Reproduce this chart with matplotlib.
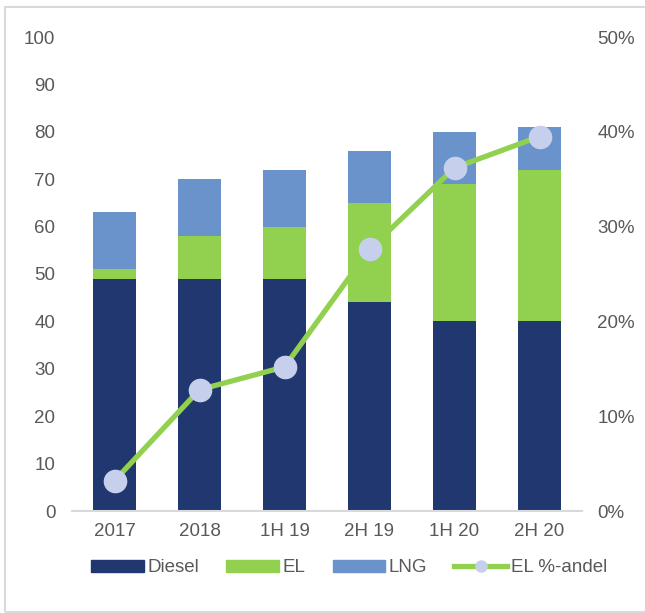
import matplotlib
matplotlib.use("Agg")
import matplotlib.pyplot as plt
from matplotlib.patches import Rectangle
from matplotlib.lines import Line2D
from matplotlib.ticker import FuncFormatter, MultipleLocator
import numpy as np

plt.rcParams['font.family'] = ['Liberation Sans', 'DejaVu Sans']

categories = ["2017", "2018", "1H 19", "2H 19", "1H 20", "2H 20"]
diesel = [49, 49, 49, 44, 40, 40]
el = [2, 9, 11, 21, 29, 32]
lng = [12, 12, 12, 11, 11, 9]
el_share = [3.2, 12.8, 15.2, 27.6, 36.2, 39.5]

c_diesel = "#21376F"
c_el = "#92D050"
c_lng = "#6A92CB"
c_marker = "#C6CFEC"
c_text = "#595959"
fs = 13.5

fig = plt.figure(figsize=(6.45, 6.13), dpi=100)
ax = fig.add_axes([72/645, 1-511/613, 510/645, 474/613])
x = np.arange(len(categories))
w = 0.5
d = np.array(diesel); e = np.array(el); l = np.array(lng)
ax.bar(x, d, w, color=c_diesel, label="Diesel", zorder=2)
ax.bar(x, e, w, bottom=d, color=c_el, label="EL", zorder=2)
ax.bar(x, l, w, bottom=d+e, color=c_lng, label="LNG", zorder=2)
ax.set_xlim(-0.5, len(categories)-0.5)
ax.set_ylim(0, 100)
ax.yaxis.set_major_locator(MultipleLocator(10))
ax.set_xticks(x)
ax.set_xticklabels(categories)
for s in ["top", "right", "left"]:
    ax.spines[s].set_visible(False)
ax.spines["bottom"].set_color("#D9D9D9")
ax.spines["bottom"].set_linewidth(1.5)
ax.tick_params(axis="both", length=0, labelsize=fs, colors=c_text)
ax.tick_params(axis="y", pad=12)
ax.tick_params(axis="x", pad=9)

ax2 = ax.twinx()
ax2.set_ylim(0, 50)
ax2.yaxis.set_major_locator(MultipleLocator(10))
ax2.yaxis.set_major_formatter(FuncFormatter(lambda v, p: f"{int(v)}%"))
for s in ["top", "right", "left", "bottom"]:
    ax2.spines[s].set_visible(False)
ax2.tick_params(axis="y", length=0, labelsize=fs, colors=c_text, pad=11)
ax2.plot(x, el_share, color=c_el, linewidth=3.8, marker="o", markersize=16,
         markerfacecolor=c_marker, markeredgecolor=c_marker, zorder=3)

handles = [Rectangle((0, 0), 1, 1, color=c_diesel),
           Rectangle((0, 0), 1, 1, color=c_el),
           Rectangle((0, 0), 1, 1, color=c_lng),
           Line2D([], [], color=c_el, linewidth=3.8, marker="o", markersize=8,
                  markerfacecolor=c_marker, markeredgecolor=c_marker)]
labels = ["Diesel", "EL", "LNG", "EL %-andel"]
leg = fig.legend(handles, labels, loc="center", bbox_to_anchor=(349/645, 1-568/613),
                 ncol=4, frameon=False, fontsize=fs, handlelength=2.8, handleheight=0.6,
                 handletextpad=0.2, columnspacing=1.45, labelcolor=c_text)

fig.patches.append(Rectangle((5/645, 1-612/613), 700/645, 605/613, transform=fig.transFigure,
                             fill=False, edgecolor="#D9D9D9", linewidth=1.5))
fig.savefig("out.png", dpi=100)
